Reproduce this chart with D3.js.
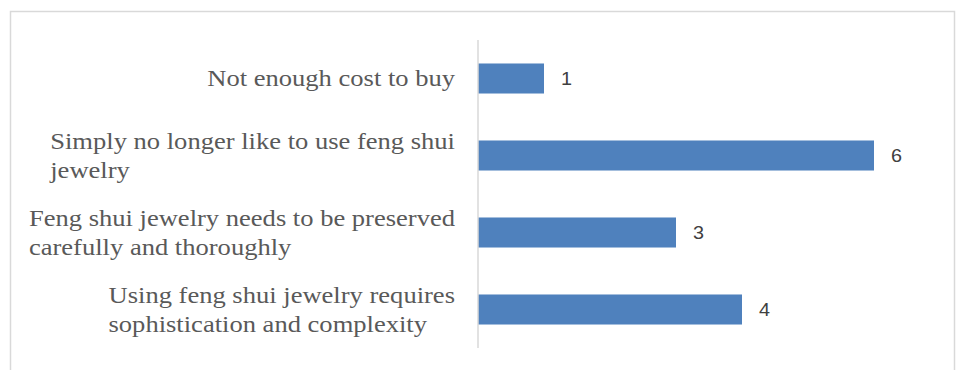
<!DOCTYPE html>
<html>
<head>
<meta charset="utf-8">
<script src="https://cdn.jsdelivr.net/npm/d3@7"></script>
<style>
  body { margin: 0; background: #fff; }
</style>
</head>
<body>
<div id="chart"></div>
<script>
// data
var categories = [
    ["Not enough cost to buy"],
    ["Simply no longer like to use feng shui", "jewelry"],
    ["Feng shui jewelry needs to be preserved", "carefully and thoroughly"],
    ["Using feng shui jewelry requires", "sophistication and complexity"]
];
var values = [1, 6, 3, 4];

const width = 957, height = 370;
var svg = d3.select("#chart").append("svg")
    .attr("width", width)
    .attr("height", height);

// chart border
svg.append("rect")
    .attr("x", 10.5).attr("y", 11.5)
    .attr("width", 944).attr("height", 370)
    .attr("fill", "#fff")
    .attr("stroke", "#d9d9d9")
    .attr("stroke-width", 1.5);

var x0 = 478;
const xScale = d3.scaleLinear().domain([0, 1]).range([x0, x0 + 66]);
const yScale = d3.scaleBand()
    .domain(d3.range(categories.length))
    .range([40, 348])
    .paddingInner(0.61)
    .paddingOuter(0.305);

// bars
svg.selectAll("rect.bar")
    .data(values)
    .enter().append("rect")
    .attr("class", "bar")
    .attr("x", x0)
    .attr("y", (d, i) => yScale(i))
    .attr("width", d => xScale(d) - x0)
    .attr("height", yScale.bandwidth())
    .attr("fill", "#4f81bd");

// axis line
svg.append("line")
    .attr("x1", x0).attr("x2", x0)
    .attr("y1", 40).attr("y2", 348)
    .attr("stroke", "#d9d9d9")
    .attr("stroke-width", 1.5);

// value labels
svg.selectAll("text.val")
    .data(values)
    .enter().append("text")
    .attr("class", "val")
    .attr("transform", (d, i) => `translate(${xScale(d) + 17},${yScale(i) + yScale.bandwidth() / 2}) scale(1.1,1)`)
    .attr("dy", "0.36em")
    .style("font-family", "'Liberation Sans', Arial, sans-serif")
    .style("font-size", "18px")
    .attr("fill", "#404040")
    .text(d => d);

// category labels: lines left aligned, block right aligned
// (the reference text is a bit stretched sideways, hence scale)
var lineH = 29, sx = 1.155;
categories.forEach(function (lines, i) {
    var cy = yScale(i) + yScale.bandwidth() / 2;
    var g = svg.append("text")
        .attr("transform", `translate(455,${cy}) scale(${sx},1)`)
        .style("font-family", "'Liberation Serif', 'Times New Roman', serif")
        .style("font-size", "23px")
        .attr("fill", "#595959");
    var top = -(lines.length - 1) * lineH / 2;
    var spans = lines.map(function (l, j) {
        return g.append("tspan")
            .attr("y", top + j * lineH)
            .attr("dy", "0.33em")
            .text(l);
    });
    var maxW = d3.max(spans, s => s.node().getComputedTextLength());
    spans.forEach(s => s.attr("x", -maxW));
});
</script>
</body>
</html>
